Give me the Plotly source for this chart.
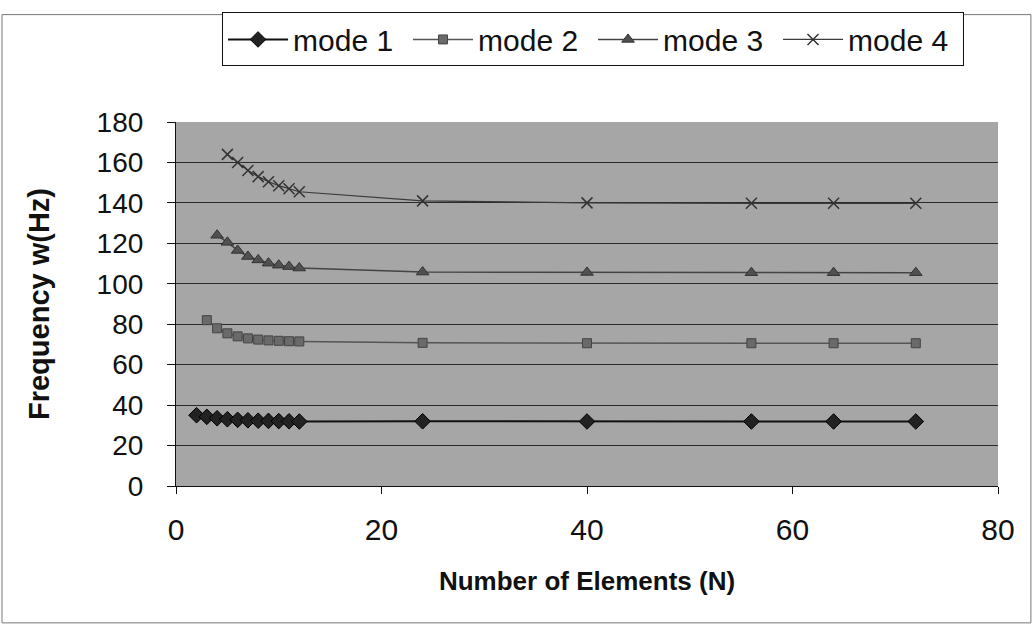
import plotly.graph_objects as go

# ---- data ----
n_mode1 = [2, 3, 4, 5, 6, 7, 8, 9, 10, 11, 12, 24, 40, 56, 64, 72]
f_mode1 = [35.0, 34.2, 33.5, 33.0, 32.7, 32.5, 32.3, 32.2, 32.1, 32.0, 31.9, 32.0, 31.9, 31.9, 31.9, 31.9]

n_mode2 = [3, 4, 5, 6, 7, 8, 9, 10, 11, 12, 24, 40, 56, 64, 72]
f_mode2 = [82.0, 78.0, 75.5, 74.0, 73.0, 72.4, 72.0, 71.8, 71.6, 71.5, 70.8, 70.6, 70.6, 70.6, 70.6]

n_mode3 = [4, 5, 6, 7, 8, 9, 10, 11, 12, 24, 40, 56, 64, 72]
f_mode3 = [124.0, 120.5, 116.5, 113.5, 111.8, 110.2, 109.2, 108.5, 107.8, 105.8, 105.6, 105.5, 105.5, 105.5]

n_mode4 = [5, 6, 7, 8, 9, 10, 11, 12, 24, 40, 56, 64, 72]
f_mode4 = [164.0, 160.0, 156.0, 153.0, 150.5, 148.5, 147.0, 145.5, 141.0, 140.0, 139.8, 139.8, 139.8]

series_names = ["mode 1", "mode 2", "mode 3", "mode 4"]
x_ticks = [0, 20, 40, 60, 80]
y_ticks = [0, 20, 40, 60, 80, 100, 120, 140, 160, 180]

fig = go.Figure()
fig.add_trace(go.Scatter(
    x=n_mode1, y=f_mode1, name=series_names[0], mode="lines+markers",
    line=dict(color="#111111", width=2),
    marker=dict(symbol="diamond", size=12, color="#222222", line=dict(color="#000000", width=1))))
fig.add_trace(go.Scatter(
    x=n_mode2, y=f_mode2, name=series_names[1], mode="lines+markers",
    line=dict(color="#555555", width=1.5),
    marker=dict(symbol="square", size=9, color="#6a6a6a", line=dict(color="#444444", width=1))))
fig.add_trace(go.Scatter(
    x=n_mode3, y=f_mode3, name=series_names[2], mode="lines+markers",
    line=dict(color="#444444", width=1.5),
    marker=dict(symbol="triangle-up", size=11, color="#505050", line=dict(color="#333333", width=1))))
fig.add_trace(go.Scatter(
    x=n_mode4, y=f_mode4, name=series_names[3], mode="lines+markers",
    line=dict(color="#3a3a3a", width=1.2),
    marker=dict(symbol="x-thin", size=11, color="#333333", line=dict(color="#333333", width=1.5))))

font_family = "Liberation Sans, Arial, sans-serif"

fig.update_layout(
    width=1034, height=628,
    margin=dict(l=176, r=36, t=114, b=142),
    paper_bgcolor="white",
    plot_bgcolor="#a6a6a6",
    font=dict(family=font_family, size=28, color="#111111"),
    showlegend=True,
    legend=dict(
        orientation="h", x=0.056, y=1.301, xanchor="left", yanchor="top",
        bordercolor="#111111", borderwidth=1, bgcolor="white",
        font=dict(size=30, family=font_family, color="#111111"),
        itemwidth=60, entrywidth=110, tracegroupgap=0,
    ),
    xaxis=dict(
        range=[0, 80], tickvals=x_ticks, ticks="outside", ticklen=7, tickcolor="#111111",
        showline=True, linecolor="#111111", linewidth=1.2, mirror=False,
        showgrid=False, zeroline=False, ticklabelstandoff=10,
        tickfont=dict(size=30, family=font_family),
        title=dict(text="<b>Number of Elements (N)</b>", font=dict(size=26, family=font_family), standoff=26),
    ),
    yaxis=dict(
        range=[0, 180], tickvals=y_ticks, ticks="outside", ticklen=8, tickcolor="#111111",
        showline=True, linecolor="#111111", linewidth=1.2, mirror=False,
        showgrid=True, gridcolor="#2a2a2a", gridwidth=1, zeroline=False, ticklabelstandoff=18,
        tickfont=dict(size=28, family=font_family),
        title=dict(text="<b>Frequency w(Hz)</b>", font=dict(size=29, family=font_family), standoff=38),
    ),
)

# outer chart border
fig.add_shape(type="rect", xref="paper", yref="paper",
              x0=-0.2117, x1=1.040, y0=-0.376, y1=1.295,
              line=dict(color="#777777", width=1), fillcolor="rgba(0,0,0,0)", layer="below")

fig.write_html("out.html")
